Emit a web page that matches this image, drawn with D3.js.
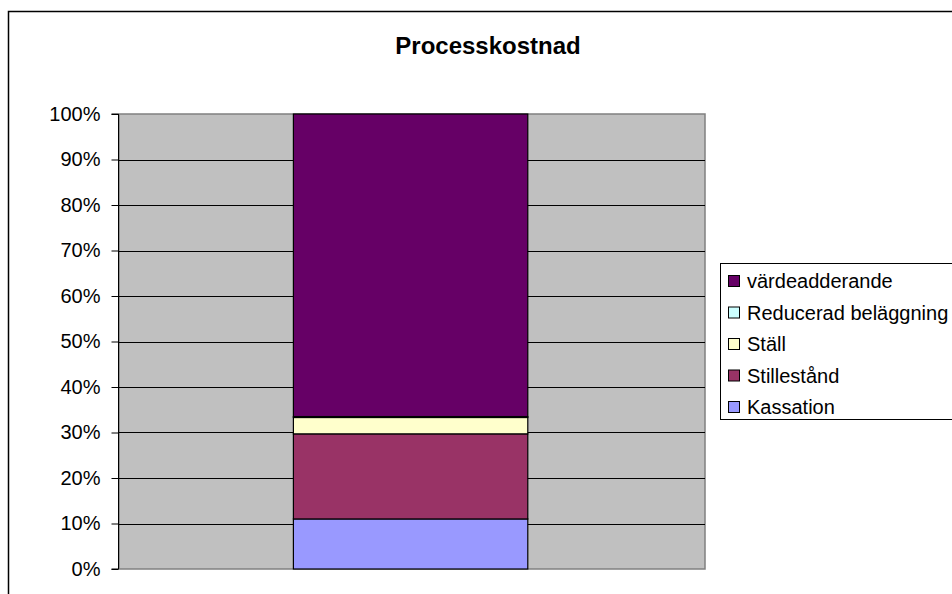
<!DOCTYPE html>
<html>
<head>
<meta charset="utf-8">
<script src="https://cdn.jsdelivr.net/npm/d3@7"></script>
<style>
  html, body { margin: 0; padding: 0; background: #fff; }
  svg { display: block; font-family: "Liberation Sans", Arial, sans-serif; }
</style>
</head>
<body>
<svg id="chart" width="952" height="594"></svg>
<script>
// Stacked 100% column: cost shares of the process
const categories = ["Processkostnad"];
const seriesNames = ["Kassation", "Stillestånd", "Ställ", "Reducerad beläggning", "värdeadderande"];
const seriesValues = [11.0, 18.7, 3.6, 0.2, 66.5];
const seriesColors = ["#9999ff", "#993366", "#ffffcc", "#ccffff", "#660066"];
const tickValues = [0, 0.1, 0.2, 0.3, 0.4, 0.5, 0.6, 0.7, 0.8, 0.9, 1.0];

const svg = d3.select("#chart");
const W = 952, H = 594;

// outer chart frame
svg.append("rect")
  .attr("x", 8.5).attr("y", 11.5)
  .attr("width", W).attr("height", H)
  .attr("fill", "#fff").attr("stroke", "#000").attr("stroke-width", 1.5);

const plot = { left: 119, right: 705, top: 114, bottom: 569 };

const y = d3.scaleLinear().domain([0, 1]).range([plot.bottom, plot.top]);
const x = d3.scaleBand().domain(categories).range([plot.left, plot.right])
  .paddingInner(0.6).paddingOuter(0.3).align(0.496);

// plot area background
svg.append("rect")
  .attr("x", plot.left).attr("y", plot.top)
  .attr("width", plot.right - plot.left).attr("height", plot.bottom - plot.top)
  .attr("fill", "#c0c0c0").attr("stroke", "#808080").attr("stroke-width", 1.5);

// gridlines
svg.append("g").selectAll("line")
  .data(tickValues.filter(d => d > 0 && d < 1))
  .join("line")
  .attr("x1", plot.left).attr("x2", plot.right)
  .attr("y1", d => Math.round(y(d)) + 0.5).attr("y2", d => Math.round(y(d)) + 0.5)
  .attr("stroke", "#000").attr("stroke-width", 1);

// stacked bar
const total = d3.sum(seriesValues);
const row = {};
seriesNames.forEach((n, i) => row[n] = seriesValues[i] / total);
const stack = d3.stack().keys(seriesNames)([row]);

svg.append("g").selectAll("rect")
  .data(stack)
  .join("rect")
  .attr("x", x(categories[0]))
  .attr("width", x.bandwidth())
  .attr("y", d => y(d[0][1]))
  .attr("height", d => y(d[0][0]) - y(d[0][1]))
  .attr("fill", (d, i) => seriesColors[i])
  .attr("stroke", "#000").attr("stroke-width", 1.2);

// y axis
const yAxis = d3.axisLeft(y).tickValues(tickValues).tickFormat(d3.format(".0%")).tickSize(7).tickPadding(11);
const ga = svg.append("g").attr("transform", `translate(${plot.left - 0.5},0)`).call(yAxis);
ga.select(".domain").attr("stroke", "#000").attr("d", `M-7,${plot.top}H0V${plot.bottom}H-7`);
ga.selectAll(".tick line").attr("stroke", "#000");
ga.selectAll(".tick text").attr("font-size", 20).attr("fill", "#000")
  .attr("font-family", "'Liberation Sans', Arial, sans-serif");

// title
svg.append("text")
  .attr("x", 488).attr("y", 54)
  .attr("text-anchor", "middle")
  .attr("font-size", 24).attr("font-weight", "bold")
  .text(categories[0]);

// legend (reverse order, top = last series)
const lg = svg.append("g");
lg.append("rect")
  .attr("x", 720.5).attr("y", 263.5).attr("width", 260).attr("height", 156)
  .attr("fill", "#fff").attr("stroke", "#000").attr("stroke-width", 1);
const legendItems = seriesNames.map((n, i) => ({ n, c: seriesColors[i] })).reverse();
const li = lg.selectAll("g.item").data(legendItems).join("g")
  .attr("transform", (d, i) => `translate(728, ${281 + i * 31.5})`);
li.append("rect")
  .attr("x", 0.5).attr("y", -5.5).attr("width", 11).attr("height", 11)
  .attr("fill", d => d.c).attr("stroke", "#000").attr("stroke-width", 1);
li.append("text")
  .attr("x", 19).attr("y", 7)
  .attr("font-size", 20).attr("fill", "#000")
  .text(d => d.n);
</script>
</body>
</html>
